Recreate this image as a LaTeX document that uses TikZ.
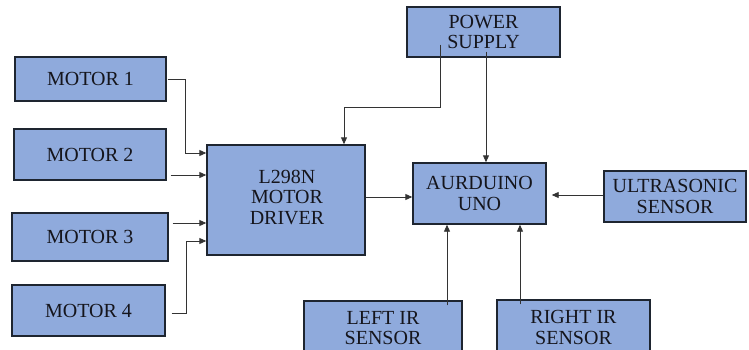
\documentclass[tikz,border=0pt]{standalone}
\usepackage{fontspec}
\setmainfont{Liberation Serif}
\newfontfamily\tms{Liberation Serif}
\usetikzlibrary{arrows.meta,calc}
\definecolor{boxfill}{HTML}{8FAADC}
\definecolor{boxline}{HTML}{1E2530}
\definecolor{txt}{HTML}{15151C}
\definecolor{wire}{HTML}{333333}
\begin{document}
\begin{tikzpicture}[x=1pt,y=-1pt,
  lbl/.style={text=txt, align=center, font=\tms\fontsize{20}{20.5}\selectfont},
  blk/.style={draw=boxline, fill=boxfill, line width=1.4pt, rectangle, inner sep=0pt, lbl},
  arr/.style={draw=wire, line width=0.9pt, -{Triangle[length=7pt,width=6pt]}}]
\useasboundingbox (0,0) rectangle (749,350);
\clip (0,0) rectangle (749,350);
% motors
\node[blk, minimum width=151pt, minimum height=44pt] (m1) at (90.5,79) {MOTOR 1};
\node[blk, minimum width=152pt, minimum height=51pt] (m2) at (90,154.5) {MOTOR 2};
\node[blk, minimum width=156pt, minimum height=48pt] (m3) at (90,237) {MOTOR 3};
\node[blk, minimum width=153pt, minimum height=51pt] (m4) at (88.5,310.5) {MOTOR 4};
% driver
\node[blk, minimum width=158pt, minimum height=110pt] (drv) at (286,200) {};
\node[lbl] (drvt) at (287,197) {L298N\\MOTOR\\DRIVER};
% power, arduino, sensors
\node[blk, minimum width=153pt, minimum height=50pt] (ps) at (483.5,32) {POWER\\SUPPLY};
\node[blk, minimum width=133pt, minimum height=61pt] (ard) at (479.5,193.5) {AURDUINO\\UNO};
\node[blk, minimum width=142pt, minimum height=51pt] (us) at (675,196.5) {ULTRASONIC\\SENSOR};
\node[blk, minimum width=158pt, minimum height=60pt] (lir) at (383,331) {};
\node[lbl] (lirt) at (383,328) {LEFT IR\\SENSOR};
\node[blk, minimum width=153pt, minimum height=60pt] (rir) at (573.5,330) {};
\node[lbl] (rirt) at (573.5,327.5) {RIGHT IR\\SENSOR};
% junction points
\coordinate (j1) at (185,153);
\coordinate (j4) at (186,241);
\coordinate (p1) at (440,107);
\coordinate (p2) at (344,107);
% motor connectors
\draw[arr] ([xshift=1pt]m1.east) -| (j1) -- (j1 -| drv.west);
\draw[arr] ([xshift=4pt]m2.east |- 0,175) -- (drv.west |- 0,175);
\draw[arr] ([xshift=4pt]m3.east |- 0,223) -- (drv.west |- 0,223);
\draw[arr] ([xshift=6pt]m4.east |- 0,313) -| (j4) -- (j4 -| drv.west);
% power connectors
\draw[arr] ([yshift=13pt]ps.south -| p1) -- (p1) -- (p2) -- (p2 |- drv.north);
\draw[arr] ([yshift=6pt]ps.south -| 486,0) -- (ard.north -| 486,0);
% driver to arduino
\draw[arr] (drv.east |- 0,197) -- (ard.west |- 0,197);
% ultrasonic
\draw[arr] (us.west |- 0,195) -- ([xshift=5pt]ard.east |- 0,195);
% IR sensors
\draw[arr] ([yshift=-5pt]lir.north -| 447,0) -- (ard.south -| 447,0);
\draw[arr] ([yshift=-5pt]rir.north -| 520,0) -- (ard.south -| 520,0);
\end{tikzpicture}
\end{document}
